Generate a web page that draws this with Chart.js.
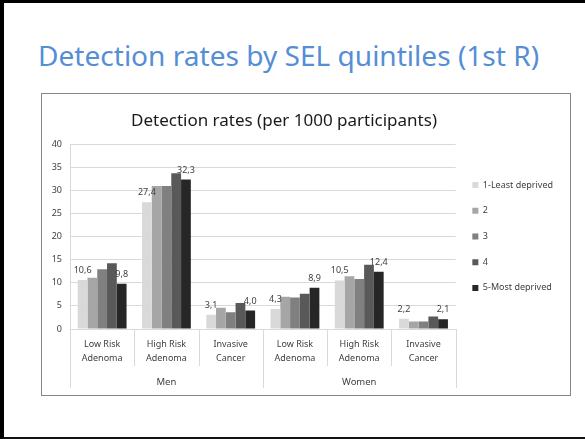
<!DOCTYPE html>
<html>
<head>
<meta charset="utf-8">
<script src="https://cdn.jsdelivr.net/npm/chart.js@4.4.1/dist/chart.umd.min.js"></script>
<style>
  html, body { margin: 0; padding: 0; background: #fff; }
  #slide {
    position: relative; width: 585px; height: 439px; overflow: hidden;
    background: #fff; box-sizing: border-box;
    border-left: 4px solid #000; border-top: 3px solid #000; border-bottom: 2px solid #111;
  }
  #heading {
    position: absolute; left: 34px; top: 39px; margin: 0;
    font: 27px "Noto Sans", sans-serif; line-height: 1; color: #558ed5;
    white-space: nowrap; transform-origin: 0 0;
  }
  #frame {
    position: absolute; left: 37px; top: 90px; width: 530px; height: 303px;
    box-sizing: border-box; border: 1.5px solid #868686;
  }
  #frame canvas { position: absolute; left: 0; top: 0; }
  #chart-title {
    position: absolute; left: 0; width: 484px; top: 17px; text-align: center;
    font: 17px "Noto Sans", sans-serif; line-height: 1; color: #1a1a1a; white-space: nowrap;
  }
</style>
</head>
<body>
<div id="slide">
  <div id="heading">Detection rates by SEL quintiles (1st R)</div>
  <div id="frame">
    <canvas id="chart" width="527" height="300"></canvas>
    <div id="chart-title">Detection rates (per 1000 participants)</div>
  </div>
</div>
<script>
  // ─── Data ──────────────────────────────────────────
  const categories = [
    ['Low Risk', 'Adenoma'], ['High Risk', 'Adenoma'], ['Invasive', 'Cancer'],
    ['Low Risk', 'Adenoma'], ['High Risk', 'Adenoma'], ['Invasive', 'Cancer'],
  ];
  const groups = ['Men', 'Women'];
  const seriesNames = ['1-Least deprived', '2', '3', '4', '5-Most deprived'];
  const q1 = [10.6, 27.4, 3.1, 4.3, 10.5, 2.2];
  const q2 = [11.1, 30.9, 4.6, 7.0, 11.4, 1.6];
  const q3 = [12.9, 30.9, 3.6, 6.8, 10.8, 1.6];
  const q4 = [14.2, 33.7, 5.6, 7.6, 13.9, 2.7];
  const q5 = [9.8, 32.3, 4.0, 8.9, 12.4, 2.1];
  const labelledSeries = [0, 4];

  const colors = ['#d9d9d9', '#a6a6a6', '#808080', '#595959', '#262626'];
  const FONT = '"Noto Sans", sans-serif';

  // fit the slide heading to the original width
  const heading = document.getElementById('heading');
  heading.style.transform = 'scaleX(' + (501 / heading.offsetWidth) + ')';

  // ─── Plugins ───────────────────────────────────────
  const valueLabels = {
    id: 'valueLabels',
    afterDatasetsDraw(chart) {
      const ctx = chart.ctx;
      ctx.save();
      ctx.font = '9px ' + FONT;
      ctx.fillStyle = '#404040';
      ctx.textAlign = 'center';
      ctx.textBaseline = 'alphabetic';
      labelledSeries.forEach((di) => {
        const ds = chart.data.datasets[di];
        chart.getDatasetMeta(di).data.forEach((bar, i) => {
          ctx.fillText(ds.data[i].toFixed(1).replace('.', ','), bar.x, bar.y - 7);
        });
      });
      ctx.restore();
    },
  };

  const groupAxis = {
    id: 'groupAxis',
    afterDraw(chart) {
      const xs = chart.scales.x;
      const ctx = chart.ctx;
      const half = (xs.getPixelForTick(1) - xs.getPixelForTick(0)) / 2;
      const per = categories.length / groups.length;
      ctx.save();
      ctx.strokeStyle = '#d9d9d9';
      ctx.lineWidth = 1;
      for (let i = 0; i <= categories.length; i++) {
        const x = Math.round(xs.getPixelForTick(Math.min(i, categories.length - 1)) + (i === categories.length ? half : -half)) + 0.5;
        const len = i % per === 0 ? 59 : 37;
        ctx.beginPath();
        ctx.moveTo(x, xs.top);
        ctx.lineTo(x, xs.top + len);
        ctx.stroke();
      }
      ctx.font = '9.5px ' + FONT;
      ctx.fillStyle = '#404040';
      ctx.textAlign = 'center';
      ctx.textBaseline = 'middle';
      groups.forEach((g, gi) => {
        const x = (xs.getPixelForTick(gi * per) + xs.getPixelForTick(gi * per + per - 1)) / 2;
        ctx.fillText(g, x, xs.top + 53);
      });
      ctx.restore();
    },
  };

  // ─── Chart ─────────────────────────────────────────
  const datasets = [q1, q2, q3, q4, q5].map((d, i) => ({
    label: seriesNames[i],
    data: d,
    backgroundColor: colors[i],
    borderWidth: 0,
    categoryPercentage: 0.76,
    barPercentage: 1.0,
  }));

  new Chart(document.getElementById('chart'), {
    type: 'bar',
    data: { labels: categories, datasets },
    plugins: [valueLabels, groupAxis],
    options: {
      responsive: false,
      animation: false,
      layout: { padding: { left: 0, right: 6, bottom: 20, top: 50 } },
      plugins: {
        title: { display: false },
        legend: {
          position: 'right',
          align: 'center',
          fullSize: false,
          labels: {
            boxWidth: 6,
            boxHeight: 6,
            padding: 16.7,
            color: '#404040',
            font: { family: FONT, size: 9 },
          },
        },
        tooltip: { enabled: false },
      },
      scales: {
        x: {
          grid: { drawOnChartArea: false, drawTicks: false },
          border: { display: true, color: '#d9d9d9' },
          ticks: {
            padding: 9,
            color: '#404040',
            font: { family: FONT, size: 9, lineHeight: 1.5 },
            maxRotation: 0,
            autoSkip: false,
          },
        },
        y: {
          min: 0,
          max: 40,
          afterFit: (s) => { s.width = 28; },
          grid: { color: '#d9d9d9', drawTicks: false },
          border: { display: true, color: '#d9d9d9' },
          ticks: {
            stepSize: 5,
            padding: 8,
            color: '#404040',
            font: { family: FONT, size: 9 },
          },
        },
      },
    },
  });
</script>
</body>
</html>
